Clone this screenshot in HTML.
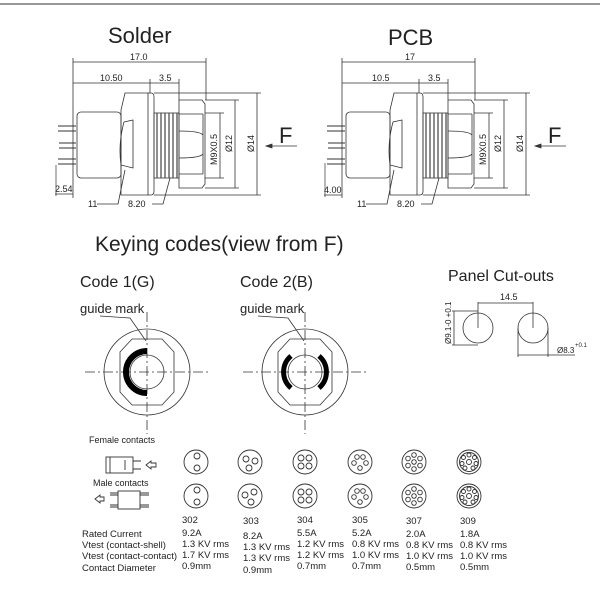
<!DOCTYPE html>
<html><head><meta charset="utf-8"><style>
html,body{margin:0;padding:0;background:#fff;}
svg{display:block;}
text{font-family:"Liberation Sans",sans-serif;fill:#222;}
</style></head><body>
<svg width="600" height="600" viewBox="0 0 600 600" xmlns="http://www.w3.org/2000/svg">
<defs>
<g id="conn" fill="none" stroke="#333" stroke-width="0.8">
  <line x1="73" y1="58" x2="73" y2="198"/>
  <line x1="73" y1="62" x2="206" y2="62"/><line x1="206" y1="58" x2="206" y2="100"/>
  <line x1="73" y1="83" x2="179" y2="83"/>
  <line x1="150" y1="79" x2="150" y2="93"/><line x1="179" y1="79" x2="179" y2="100"/>
  <rect x="77" y="112" width="44" height="66" rx="4"/>
  <path d="M125 93 L148 93 L148 195 L121 195 L121 110 Z"/>
  <path d="M148 93 L151 93 Q154 93 154 97 L154 191 Q154 195 151 195 L148 195"/>
  <path d="M121 165 L133 168 L133 120 L124 122 Q118 144 121 165 Z"/>
  <rect x="154" y="113" width="25" height="65"/>
  <path d="M157 113 L157 178 M161 113 L161 178 M165 113 L165 178 M169 113 L169 178 M173 113 L173 178 M177 113 L177 178" stroke-width="1.2" stroke="#444"/>
  <path d="M179 100 L202 100 L205 104 L205 184 L202 188 L179 188 Z"/>
  <path d="M179 114 L203 114 M179 131 Q200 131 203 135 M179 158 Q200 158 203 154 M179 174 L203 174 M203 114 L203 174"/>
  <path d="M58 126 L76 126 M58 131 L76 131 M59 143 L76 143 M59 148 L76 148 M58 159 L76 159 M58 164 L76 164" stroke-width="1.1"/>
  <line x1="205" y1="113" x2="224" y2="113"/><line x1="205" y1="178" x2="224" y2="178"/>
  <line x1="220" y1="113" x2="220" y2="178"/>
  <line x1="205" y1="100" x2="239" y2="100"/><line x1="205" y1="188" x2="239" y2="188"/>
  <line x1="235" y1="100" x2="235" y2="188"/>
  <line x1="154" y1="93" x2="261" y2="93"/><line x1="154" y1="195" x2="261" y2="195"/>
  <line x1="257" y1="93" x2="257" y2="195"/>
  <path d="M97 204 L118 204 L125 170"/>
  <path d="M152 204 L163 204 L170 178"/>
  <line x1="266" y1="146" x2="297" y2="146"/>
  <path d="M266 146 L272 144 L272 148 Z" fill="#333"/>
</g>
<g id="c2"><circle r="12"/><circle cx="1" cy="-6" r="3"/><circle cx="1" cy="6" r="3"/></g>
</defs>
<line x1="0" y1="4" x2="600" y2="4" stroke="#999" stroke-width="2"/>

<text x="108" y="43" font-size="22">Solder</text>
<text x="388" y="45" font-size="22">PCB</text>

<use href="#conn"/>
<text x="130" y="60" font-size="9">17.0</text>
<text x="100" y="81" font-size="9">10.50</text>
<text x="159" y="81" font-size="9">3.5</text>
<text x="55" y="192" font-size="9">2.54</text>
<line x1="55" y1="194" x2="73" y2="194" stroke="#333" stroke-width="0.7"/>
<line x1="56" y1="165" x2="56" y2="196" stroke="#333" stroke-width="0.7"/>
<text x="88" y="207" font-size="9">11</text>
<text x="128" y="207" font-size="9">8.20</text>
<text transform="translate(217,165) rotate(-90)" font-size="9">M9X0.5</text>
<text transform="translate(232,152) rotate(-90)" font-size="9">Ø12</text>
<text transform="translate(254,152) rotate(-90)" font-size="9">Ø14</text>
<text x="279" y="143" font-size="22">F</text>

<use href="#conn" transform="translate(269,0)"/>
<text x="405" y="60" font-size="9">17</text>
<text x="372" y="81" font-size="9">10.5</text>
<text x="428" y="81" font-size="9">3.5</text>
<text x="324" y="193" font-size="9">4.00</text>
<line x1="324" y1="195" x2="342" y2="195" stroke="#333" stroke-width="0.7"/>
<line x1="325" y1="163" x2="325" y2="197" stroke="#333" stroke-width="0.7"/>
<text x="357" y="207" font-size="9">11</text>
<text x="397" y="207" font-size="9">8.20</text>
<text transform="translate(486,165) rotate(-90)" font-size="9">M9X0.5</text>
<text transform="translate(501,152) rotate(-90)" font-size="9">Ø12</text>
<text transform="translate(523,152) rotate(-90)" font-size="9">Ø14</text>
<text x="548" y="143" font-size="22">F</text>

<text x="95" y="251" font-size="21">Keying codes(view from F)</text>
<text x="80" y="287" font-size="16">Code 1(G)</text>
<text x="240" y="287" font-size="16">Code 2(B)</text>
<text x="448" y="281" font-size="16">Panel Cut-outs</text>
<text x="80" y="313" font-size="13">guide mark</text>
<text x="240" y="313" font-size="13">guide mark</text>

<g fill="none" stroke="#333" stroke-width="0.8">
  <g transform="translate(147,372)">
    <circle r="43"/>
    <polygon points="-27,-20 -15,-33 15,-33 27,-20 27,20 15,33 -15,33 -27,20"/>
    <circle r="17"/>
    <line x1="-62" y1="0" x2="62" y2="0" stroke-dasharray="10,3,2,3"/>
    <line x1="0" y1="-60" x2="0" y2="62" stroke-dasharray="10,3,2,3"/>
    <path d="M0 -21 A21 21 0 0 0 0 21" stroke="#000" stroke-width="6"/>
  </g>
  <path d="M100 316 L130 318 L146 341"/>
  <g transform="translate(305,372)">
    <circle r="43"/>
    <polygon points="-27,-20 -15,-33 15,-33 27,-20 27,20 15,33 -15,33 -27,20"/>
    <circle r="17"/>
    <line x1="-62" y1="0" x2="62" y2="0" stroke-dasharray="10,3,2,3"/>
    <line x1="0" y1="-60" x2="0" y2="62" stroke-dasharray="10,3,2,3"/>
    <path d="M-14 -16 A21 21 0 0 0 -14 16" stroke="#000" stroke-width="5"/>
    <path d="M14 -16 A21 21 0 0 1 14 16" stroke="#000" stroke-width="5"/>
  </g>
  <path d="M258 316 L288 318 L304 341"/>
  <circle cx="478" cy="328" r="15"/>
  <circle cx="533" cy="328" r="15"/>
  <line x1="478" y1="302" x2="478" y2="328"/><line x1="533" y1="302" x2="533" y2="328"/>
  <line x1="478" y1="303" x2="533" y2="303"/>
  <line x1="452" y1="311" x2="478" y2="311"/><line x1="452" y1="345" x2="478" y2="345"/>
  <line x1="454" y1="311" x2="454" y2="345"/>
  <line x1="518" y1="328" x2="518" y2="357"/><line x1="548" y1="328" x2="548" y2="357"/>
  <line x1="518" y1="355" x2="575" y2="355"/>
</g>
<text x="500" y="300" font-size="9">14.5</text>
<text transform="translate(451,344) rotate(-90)" font-size="8">Ø9.1-0 +0.1</text>
<text x="557" y="353" font-size="8">Ø8.3</text>
<text x="575" y="347" font-size="6">+0.1</text>

<text x="89" y="443" font-size="9">Female contacts</text>
<text x="93" y="486" font-size="9">Male contacts</text>
<g fill="none" stroke="#333" stroke-width="0.9">
  <rect x="106" y="457" width="27" height="16"/>
  <line x1="110" y1="457" x2="110" y2="473"/><line x1="125" y1="460" x2="125" y2="470"/>
  <path d="M133 461 L141 461 M133 469 L141 469"/>
  <path d="M146 465 L151 461 L151 463 L156 463 L156 467 L151 467 L151 469 Z"/>
  <path d="M95 499 L100 495 L100 497 L104 497 L104 501 L100 501 L100 503 Z"/>
  <rect x="118" y="491" width="22" height="18"/>
  <path d="M110 495 L118 495 M110 505 L118 505 M140 495 L149 495 M140 505 L149 505 M110 493 L118 493 M140 493 L149 493 M110 507 L118 507 M140 507 L149 507"/>
</g>
<g fill="none" stroke="#333" stroke-width="0.9">
  <use href="#c2" transform="translate(196,462)"/>
  <use href="#c2" transform="translate(196,496)"/>
  <g transform="translate(250,462)"><circle r="12"/><circle cx="-4" cy="-3" r="3"/><circle cx="5" cy="-1" r="3"/><circle cx="-1" cy="6" r="3"/></g>
  <g transform="translate(250,496)"><circle r="12"/><circle cx="-5" cy="-1" r="3"/><circle cx="4" cy="-4" r="3"/><circle cx="1" cy="6" r="3"/></g>
  <g transform="translate(305,462)"><circle r="12"/><circle cx="-4" cy="-4" r="3"/><circle cx="4" cy="-4" r="3"/><circle cx="-4" cy="4" r="3"/><circle cx="4" cy="4" r="3"/></g>
  <g transform="translate(305,496)"><circle r="12"/><circle cx="-4" cy="-4" r="3"/><circle cx="4" cy="-4" r="3"/><circle cx="-4" cy="4" r="3"/><circle cx="4" cy="4" r="3"/></g>
  <g transform="translate(360,462)"><circle r="12"/><circle cx="-3" cy="-5" r="2.3"/><circle cx="3" cy="-5" r="2.3"/><circle cx="-6" cy="1" r="2.3"/><circle cx="6" cy="1" r="2.3"/><circle cx="0" cy="6" r="2.3"/></g>
  <g transform="translate(360,496)"><circle r="12"/><circle cx="-3" cy="-5" r="2.3"/><circle cx="3" cy="-5" r="2.3"/><circle cx="-6" cy="1" r="2.3"/><circle cx="6" cy="1" r="2.3"/><circle cx="0" cy="6" r="2.3"/></g>
  <g transform="translate(414,462)"><circle r="12"/><circle r="2.3"/><circle cx="0" cy="-7" r="2.3"/><circle cx="6" cy="-3.5" r="2.3"/><circle cx="6" cy="3.5" r="2.3"/><circle cx="0" cy="7" r="2.3"/><circle cx="-6" cy="3.5" r="2.3"/><circle cx="-6" cy="-3.5" r="2.3"/></g>
  <g transform="translate(414,496)"><circle r="12"/><circle r="2.3"/><circle cx="0" cy="-7" r="2.3"/><circle cx="6" cy="-3.5" r="2.3"/><circle cx="6" cy="3.5" r="2.3"/><circle cx="0" cy="7" r="2.3"/><circle cx="-6" cy="3.5" r="2.3"/><circle cx="-6" cy="-3.5" r="2.3"/></g>
  <g transform="translate(469,462)"><circle r="12"/><circle r="9.5"/><circle r="2.5"/><circle cx="0" cy="-7" r="2"/><circle cx="5.5" cy="-4.5" r="2"/><circle cx="7" cy="1.5" r="2"/><circle cx="4" cy="6" r="2"/><circle cx="-4" cy="6" r="2"/><circle cx="-7" cy="1.5" r="2"/><circle cx="-5.5" cy="-4.5" r="2"/></g>
  <g transform="translate(469,496)"><circle r="12"/><circle r="9.5"/><circle r="2.5"/><circle cx="0" cy="-7" r="2"/><circle cx="5.5" cy="-4.5" r="2"/><circle cx="7" cy="1.5" r="2"/><circle cx="4" cy="6" r="2"/><circle cx="-4" cy="6" r="2"/><circle cx="-7" cy="1.5" r="2"/><circle cx="-5.5" cy="-4.5" r="2"/></g>
</g>
<g font-size="9.5">
<text x="182" y="523">302</text><text x="243" y="524">303</text><text x="297" y="523">304</text>
<text x="352" y="523">305</text><text x="406" y="524">307</text><text x="460" y="524">309</text>
</g>
<g font-size="9.5">
<text x="82" y="537">Rated Current</text>
<text x="82" y="548">Vtest (contact-shell)</text>
<text x="82" y="559">Vtest (contact-contact)</text>
<text x="82" y="571">Contact Diameter</text>
<text x="182" y="536">9.2A</text><text x="182" y="547">1.3 KV rms</text><text x="182" y="558">1.7 KV rms</text><text x="182" y="569">0.9mm</text>
<text x="243" y="539">8.2A</text><text x="243" y="550">1.3 KV rms</text><text x="243" y="561">1.3 KV rms</text><text x="243" y="573">0.9mm</text>
<text x="297" y="536">5.5A</text><text x="297" y="547">1.2 KV rms</text><text x="297" y="558">1.2 KV rms</text><text x="297" y="569">0.7mm</text>
<text x="352" y="536">5.2A</text><text x="352" y="547">0.8 KV rms</text><text x="352" y="558">1.0 KV rms</text><text x="352" y="569">0.7mm</text>
<text x="406" y="537">2.0A</text><text x="406" y="548">0.8 KV rms</text><text x="406" y="559">1.0 KV rms</text><text x="406" y="570">0.5mm</text>
<text x="460" y="537">1.8A</text><text x="460" y="548">0.8 KV rms</text><text x="460" y="559">1.0 KV rms</text><text x="460" y="570">0.5mm</text>
</g>
</svg>
</body></html>
